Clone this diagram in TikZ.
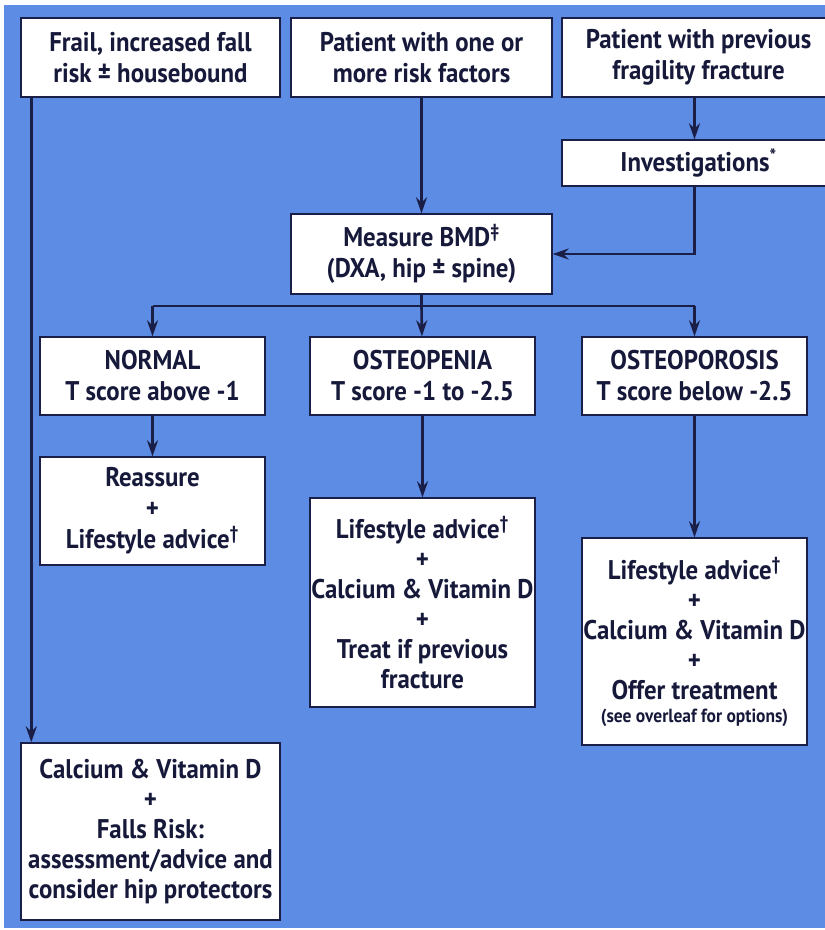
\documentclass[tikz,border=0pt]{standalone}
\usepackage{fontspec}
\setmainfont{PT Sans}[FakeStretch=0.92]
\usetikzlibrary{arrows.meta, positioning}

\definecolor{bgblue}{RGB}{93,140,228}
\definecolor{ink}{RGB}{27,31,72}

\begin{document}
\begin{tikzpicture}[x=1pt, y=-1pt, >=Stealth,
    box/.style={draw=ink, line width=1.4pt, fill=white, inner sep=0pt,
      align=center, font=\fontsize{27}{31}\selectfont\bfseries, text=ink!80!black},
    tight/.style={font=\fontsize{27}{30}\selectfont\bfseries},
    arr/.style={->, line width=2.6pt, draw=ink, -{Stealth[length=16pt, width=11pt]}},
    link/.style={line width=2.6pt, draw=ink}]
    \useasboundingbox (0,0) rectangle (825,930);
    \fill[bgblue] (4,5) rectangle (830,928);

    % top row
    \node[box, minimum width=259, minimum height=79] (frail) at (150.5,57.5)
        {Frail, increased fall\\risk ± housebound};
    \node[box, minimum width=261, minimum height=79] (one) at (421.5,57.5)
        {Patient with one or\\more risk factors};
    \node[box, minimum width=273, minimum height=79] (prev) at (698.5,57.5)
        {Patient with previous\\fragility fracture};
    \node[box, minimum width=273, minimum height=46] (invest) at (698.5,163)
        {Investigations\textsuperscript{*}};
    \node[box, minimum width=261, minimum height=80] (bmd) at (421.5,254)
        {Measure BMD\textsuperscript{‡}\\(DXA, hip ± spine)};

    % T score row
    \node[box, minimum width=225, minimum height=78] (normal) at (152.5,376)
        {NORMAL\\T score above -1};
    \node[box, minimum width=225, minimum height=78] (penia) at (422.5,376)
        {OSTEOPENIA\\T score -1 to -2.5};
    \node[box, minimum width=225, minimum height=78] (porosis) at (694.5,376)
        {OSTEOPOROSIS\\T score below -2.5};

    % advice
    \node[box, minimum width=225, minimum height=108] (reassure) at (152.5,511)
        {Reassure\\+\\Lifestyle advice\textsuperscript{†}};
    \node[box, tight, minimum width=225, minimum height=209] (peniatx) at (422.5,602.5)
        {Lifestyle advice\textsuperscript{†}\\+\\Calcium \& Vitamin D\\+\\Treat if previous\\fracture};
    \node[box, tight, minimum width=225, minimum height=207] (porosistx) at (694.5,641.5)
        {Lifestyle advice\textsuperscript{†}\\+\\Calcium \& Vitamin D\\+\\Offer treatment\\[-7pt]{\fontsize{19}{22}\selectfont (see overleaf for options)}};
    \node[box, tight, minimum width=259, minimum height=177] (falls) at (150.5,831.5)
        {Calcium \& Vitamin D\\+\\Falls Risk:\\assessment/advice and\\consider hip protectors};

    % connectors
    \draw[arr] ([xshift=11pt]frail.south west) -- ([xshift=11pt]falls.north west);
    \draw[arr] (one) -- (bmd);
    \draw[arr] (prev.south -| porosis) -- (invest.north -| porosis);
    \draw[arr] (invest.south -| porosis) |- (bmd.east);
    \coordinate (split) at (421.5,306);
    \draw[link] (bmd.south) -- (split);
    \draw[link] (split -| normal) -- (split -| porosis);
    \draw[arr] (split -| normal) -- (normal);
    \draw[arr] (split) -- (penia);
    \draw[arr] (split -| porosis) -- (porosis);
    \draw[arr] (normal) -- (reassure);
    \draw[arr] (penia) -- (peniatx);
    \draw[arr] (porosis) -- (porosistx);
\end{tikzpicture}
\end{document}
